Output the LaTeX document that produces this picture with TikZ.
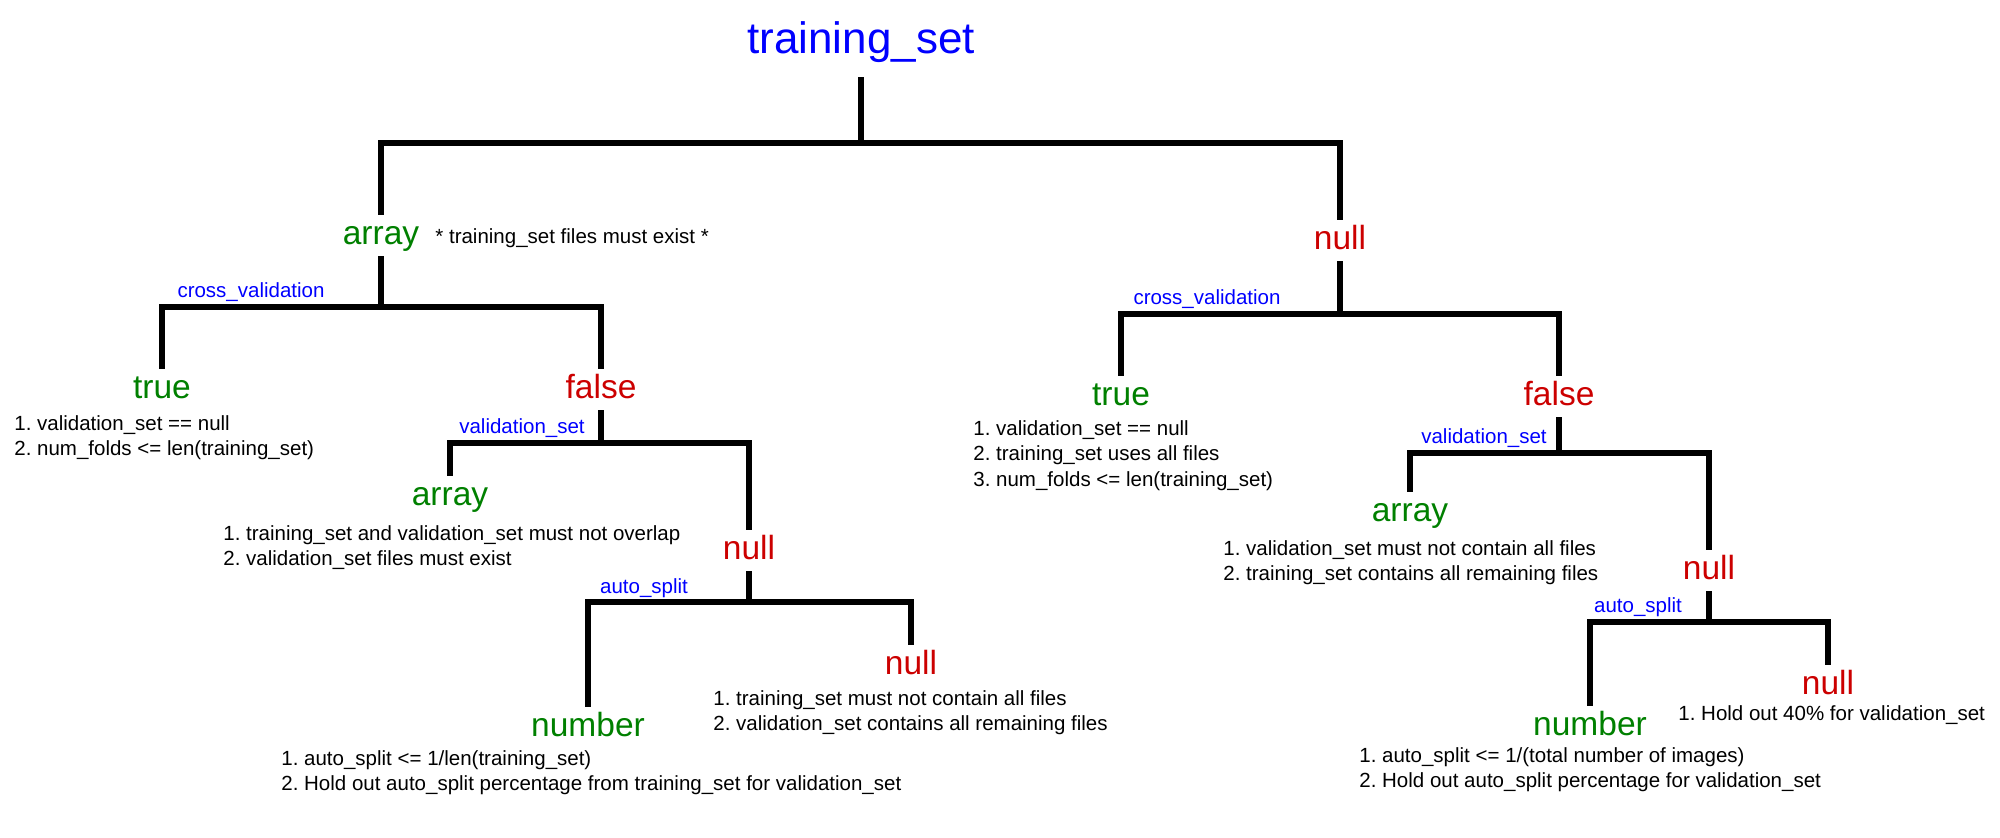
\documentclass[tikz,border=0pt]{standalone}
\usepackage{fontspec}
\setmainfont{Liberation Sans}
\frenchspacing
\definecolor{tblue}{RGB}{0,0,255}
\definecolor{tgreen}{RGB}{0,128,0}
\definecolor{tred}{RGB}{204,0,0}
\begin{document}
\begin{tikzpicture}[x=0.5pt,y=-0.5pt,
  conn/.style={line width=2.75pt,draw=black,line join=miter},
  rootnode/.style={anchor=base,inner xsep=0pt,inner ysep=7.4pt,text height=16pt,text depth=4.6pt,
    font=\fontsize{22}{26}\selectfont,text=tblue},
  bignode/.style={anchor=base,inner xsep=0pt,inner ysep=2.5pt,text height=12pt,text depth=3.5pt,
    font=\fontsize{16.75}{20}\selectfont},
  yes/.style={bignode,text=tgreen},
  no/.style={bignode,text=tred},
  branchlbl/.style={anchor=base,inner sep=0pt,font=\fontsize{10.25}{12.75}\selectfont,text=tblue},
  desc/.style={anchor=north west,inner sep=0pt,align=left,font=\fontsize{10.25}{12.75}\selectfont\frenchspacing,text=black},
  note/.style={anchor=base west,inner sep=0pt,font=\fontsize{10.25}{12.75}\selectfont,text=black}]
\useasboundingbox[fill=white] (0,0) rectangle (2000,837);

% nodes
\node[rootnode] (root) at (861,53) {training\_set};
\node[yes] (A1) at (381,244) {array};
\node[note] (A1n) at (435,243) {* training\_set files must exist *};
\node[no] (N1) at (1340,249) {null};

\node[yes] (T1) at (162,398) {true};
\node[no] (F1) at (601,398) {false};
\node[desc] (T1d) at (14,415) {1. validation\_set == null\\2. num\_folds <= len(training\_set)};

\node[yes] (A2) at (450,505) {array};
\node[desc] (A2d) at (223,525) {1. training\_set and validation\_set must not overlap\\2. validation\_set files must exist};
\node[no] (N2) at (749,559) {null};

\node[yes] (Num1) at (588,736) {number};
\node[desc] (Num1d) at (281,750) {1. auto\_split <= 1/len(training\_set)\\2. Hold out auto\_split percentage from training\_set for validation\_set};
\node[no] (N3) at (911,674) {null};
\node[desc] (N3d) at (713,690) {1. training\_set must not contain all files\\2. validation\_set contains all remaining files};

\node[yes] (T2) at (1121,405) {true};
\node[desc] (T2d) at (973,420) {1. validation\_set == null\\2. training\_set uses all files\\3. num\_folds <= len(training\_set)};
\node[no] (F2) at (1559,405) {false};

\node[yes] (A3) at (1410,521) {array};
\node[desc] (A3d) at (1223,540) {1. validation\_set must not contain all files\\2. training\_set contains all remaining files};
\node[no] (N4) at (1709,579) {null};

\node[yes] (Num2) at (1590,735) {number};
\node[desc] (Num2d) at (1359,747) {1. auto\_split <= 1/(total number of images)\\2. Hold out auto\_split percentage for validation\_set};
\node[no] (N5) at (1828,694) {null};
\node[desc] (N5d) at (1678,705) {1. Hold out 40\% for validation\_set};

% branch labels
\node[branchlbl] (cv1) at (251,297) {cross\_validation};
\node[branchlbl] (cv2) at (1207,304) {cross\_validation};
\node[branchlbl] (vs1) at (522,433) {validation\_set};
\node[branchlbl] (vs2) at (1484,443) {validation\_set};
\node[branchlbl] (as1) at (644,593) {auto\_split};
\node[branchlbl] (as2) at (1638,612) {auto\_split};

% bar coordinates
\coordinate (b0) at (861,143);
\coordinate (b1) at (381,307);
\coordinate (b2) at (601,443);
\coordinate (b3) at (749,602);
\coordinate (b4) at (1340,314);
\coordinate (b5) at (1559,453);
\coordinate (b6) at (1709,622);

% connectors
\draw[conn] (root.south) -- (b0);
\draw[conn] (A1.north) |- (b0) -| (N1.north);

\draw[conn] (A1.south) -- (b1);
\draw[conn] (T1.north) |- (b1) -| (F1.north);

\draw[conn] (F1.south) -- (b2);
\draw[conn] (A2.north) |- (b2) -| (N2.north);

\draw[conn] (N2.south) -- (b3);
\draw[conn] (Num1.north) |- (b3) -| (N3.north);

\draw[conn] (N1.south) -- (b4);
\draw[conn] (T2.north) |- (b4) -| (F2.north);

\draw[conn] (F2.south) -- (b5);
\draw[conn] (A3.north) |- (b5) -| (N4.north);

\draw[conn] (N4.south) -- (b6);
\draw[conn] (Num2.north) |- (b6) -| (N5.north);
\end{tikzpicture}
\end{document}
